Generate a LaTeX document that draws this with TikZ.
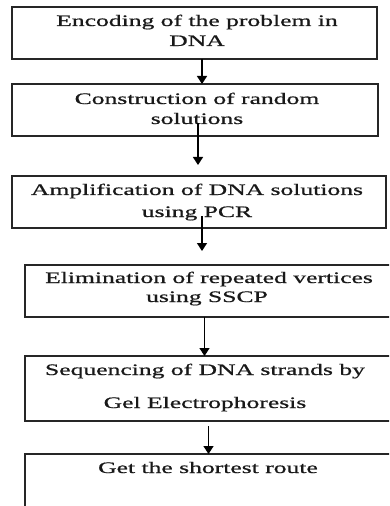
\documentclass[tikz,border=0pt]{standalone}
\usepackage{fontspec}
\setmainfont[FakeStretch=1.6,FakeBold=0.8]{Liberation Serif}
\usetikzlibrary{arrows.meta}
\begin{document}
\begin{tikzpicture}[x=1bp,y=-1bp,
  box/.style={draw=black!85,line width=1.3bp,anchor=north west,inner sep=0pt,outer sep=0pt},
  lbl/.style={anchor=base,inner sep=0pt,font=\fontsize{16bp}{19bp}\selectfont,text=black!90},
  conn/.style={line width=1.4bp,-{Triangle[width=10bp,length=8bp]}}]
\useasboundingbox (0,0) rectangle (389,506);
\clip (0,0) rectangle (389,506);
% boxes
\node[box,minimum width=365bp,minimum height=52bp] (b1) at (12,7) {};
\node[box,minimum width=366bp,minimum height=52bp] (b2) at (12,84) {};
\node[box,minimum width=374bp,minimum height=52bp] (b3) at (12,176) {};
\node[box,minimum width=380bp,minimum height=52bp] (b4) at (25,265) {};
\node[box,minimum width=380bp,minimum height=65bp] (b5) at (25,356) {};
\node[box,minimum width=380bp,minimum height=80bp] (b6) at (25,454) {};
% texts
\node[lbl] (t1a) at (197,26) {Encoding of the problem in};
\node[lbl] (t1b) at (197,46) {DNA};
\node[lbl] (t2a) at (197,104) {Construction of random};
\node[lbl] (t2b) at (197,124) {solutions};
\node[lbl] (t3a) at (197,195) {Amplification of DNA solutions};
\node[lbl] (t3b) at (197,217) {using PCR};
\node[lbl] (t4a) at (209,283) {Elimination of repeated vertices};
\node[lbl] (t4b) at (207,302) {using SSCP};
\node[lbl] (t5a) at (205,375) {Sequencing of DNA strands by};
\node[lbl] (t5b) at (205,408) {Gel Electrophoresis};
\node[lbl] (t6a) at (208,473) {Get the shortest route};
% connector ends
\coordinate (a1s) at (202,59);  \coordinate (a1e) at (202,84);
\coordinate (a2s) at (198,123); \coordinate (a2e) at (198,165);
\coordinate (a3s) at (202,216); \coordinate (a3e) at (202,251);
\coordinate (a4s) at (204.5,317); \coordinate (a4e) at (204.5,356);
\coordinate (a5s) at (208.5,426); \coordinate (a5e) at (208.5,454);
\draw[conn] (a1s) -- (a1e);
\draw[conn] (a2s) -- (a2e);
\draw[conn] (a3s) -- (a3e);
\draw[conn] (a4s) -- (a4e);
\draw[conn] (a5s) -- (a5e);
\end{tikzpicture}
\end{document}
